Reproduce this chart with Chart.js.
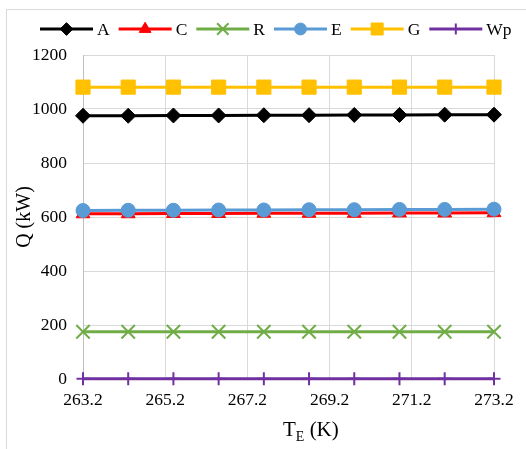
<!DOCTYPE html>
<html>
<head>
<meta charset="utf-8">
<script src="https://cdn.jsdelivr.net/npm/chart.js@4.4.1/dist/chart.umd.min.js"></script>
<style>
  html, body { margin: 0; padding: 0; background: #ffffff; }
  #wrap { position: relative; width: 526px; height: 449px; overflow: hidden; }
  canvas { display: block; }
</style>
</head>
<body>
<div id="wrap"><canvas id="chart" width="526" height="449"></canvas></div>
<script>
// Evaporator temperature T_E (K)
const temperatures = [263.2, 264.3, 265.4, 266.5, 267.6, 268.7, 269.8, 270.9, 272.0, 273.2];

// Heat flows / work (kW)
const qA  = [975, 975, 976, 976, 977, 977, 978, 978, 979, 979];
const qC  = [612, 612, 613, 613, 614, 614, 614, 615, 615, 616];
const qR  = [175, 175, 175, 175, 175, 175, 175, 175, 175, 175];
const qE  = [624, 625, 625, 626, 626, 627, 627, 628, 628, 629];
const qG  = [1081, 1081, 1081, 1081, 1081, 1081, 1081, 1081, 1081, 1081];
const qWp = [1, 1, 1, 1, 1, 1, 1, 1, 1, 1];

const seriesNames = ['A', 'C', 'R', 'E', 'G', 'Wp'];
const seriesValues = [qA, qC, qR, qE, qG, qWp];

// Axis ticks
const xTickValues = [263.2, 265.2, 267.2, 269.2, 271.2, 273.2];
const yTickValues = [0, 200, 400, 600, 800, 1000, 1200];

// Marker / line styling per series
const seriesStyles = [
  { color: '#000000', pointStyle: 'rectRot',  radius: 7.5, markerBorder: 1 },
  { color: '#FF0000', pointStyle: 'triangle', radius: 8,   markerBorder: 1 },
  { color: '#70AD47', pointStyle: 'crossRot', radius: 9.5, markerBorder: 2 },
  { color: '#5B9BD5', pointStyle: 'circle',   radius: 7,   markerBorder: 1 },
  { color: '#FFC000', pointStyle: 'rect',     radius: 10,  markerBorder: 1 },
  { color: '#7030A0', pointStyle: 'cross',    radius: 6.5, markerBorder: 2 }
];

const FONT = "'Liberation Serif', 'Times New Roman', serif";
const TEXT_COLOR = '#000000';

const datasets = seriesNames.map((name, i) => {
  const st = seriesStyles[i];
  return {
    label: name,
    data: temperatures.map((t, k) => ({ x: t, y: seriesValues[i][k] })),
    borderColor: st.color,
    backgroundColor: st.color,
    pointBackgroundColor: st.color,
    pointBorderColor: st.color,
    pointBorderWidth: st.markerBorder,
    pointStyle: st.pointStyle,
    pointRadius: st.radius,
    pointHoverRadius: st.radius,
    borderWidth: 3,
    tension: 0,
    clip: false,
    // later series are painted on top
    order: seriesNames.length - i
  };
});

const decorations = {
  id: 'decorations',
  beforeDraw(chart) {
    const ctx = chart.ctx;
    ctx.save();
    ctx.strokeStyle = '#d9d9d9';
    ctx.lineWidth = 1;
    ctx.strokeRect(6.5, 9.5, 700, 700);
    ctx.restore();
  },
  afterDraw(chart) {
    const ctx = chart.ctx;
    const area = chart.chartArea;
    const drawPoint = Chart.helpers && Chart.helpers.drawPoint;

    // Legend: line + marker + label
    ctx.save();
    ctx.font = '17.5px ' + FONT;
    ctx.textBaseline = 'middle';
    ctx.textAlign = 'left';
    let x = 40;
    const ly = 29;
    seriesNames.forEach((name, i) => {
      const st = seriesStyles[i];
      ctx.strokeStyle = st.color;
      ctx.fillStyle = st.color;
      ctx.lineWidth = 3;
      ctx.beginPath();
      ctx.moveTo(x, ly);
      ctx.lineTo(x + 53, ly);
      ctx.stroke();
      if (drawPoint) {
        ctx.lineWidth = st.markerBorder;
        drawPoint(ctx, {
          pointStyle: st.pointStyle,
          radius: st.radius * 0.85,
          rotation: 0,
          borderWidth: st.markerBorder
        }, x + 26.5, ly);
      }
      ctx.fillStyle = TEXT_COLOR;
      ctx.fillText(name, x + 57, ly + 1);
      x += 57 + ctx.measureText(name).width + 9;
    });
    ctx.restore();

    // Y axis title
    ctx.save();
    ctx.fillStyle = TEXT_COLOR;
    ctx.font = '20px ' + FONT;
    ctx.translate(25, (area.top + area.bottom) / 2);
    ctx.rotate(-Math.PI / 2);
    ctx.textAlign = 'center';
    ctx.textBaseline = 'middle';
    ctx.fillText('Q (kW)', 0, 0);
    ctx.restore();

    // X axis title with subscript
    ctx.save();
    ctx.fillStyle = TEXT_COLOR;
    ctx.textBaseline = 'alphabetic';
    ctx.textAlign = 'left';
    const base = 436;
    let tx = 283;
    ctx.font = '21px ' + FONT;
    ctx.fillText('T', tx, base);
    tx += ctx.measureText('T').width;
    ctx.font = '14px ' + FONT;
    ctx.fillText('E', tx, base + 5);
    tx += ctx.measureText('E').width;
    ctx.font = '21px ' + FONT;
    ctx.fillText(' (K)', tx, base);
    ctx.restore();
  }
};

new Chart(document.getElementById('chart'), {
  type: 'line',
  data: { datasets },
  plugins: [decorations],
  options: {
    responsive: false,
    animation: false,
    devicePixelRatio: 1,
    layout: { padding: { top: 55, right: 32, left: 0, bottom: 0 } },
    plugins: {
      legend: { display: false },
      title: { display: false },
      tooltip: { enabled: false }
    },
    scales: {
      x: {
        type: 'linear',
        min: xTickValues[0],
        max: xTickValues[xTickValues.length - 1],
        afterBuildTicks: (scale) => { scale.ticks = xTickValues.map(v => ({ value: v })); },
        afterFit: (scale) => { scale.height = 70; },
        ticks: {
          callback: (v) => Number(v).toFixed(1),
          font: { family: FONT, size: 17.5 },
          color: TEXT_COLOR,
          padding: 11,
          maxRotation: 0,
          autoSkip: false
        },
        grid: { color: '#d9d9d9', lineWidth: 1, drawTicks: false },
        border: { color: '#bfbfbf', width: 1 }
      },
      y: {
        type: 'linear',
        min: yTickValues[0],
        max: yTickValues[yTickValues.length - 1],
        afterBuildTicks: (scale) => { scale.ticks = yTickValues.map(v => ({ value: v })); },
        afterFit: (scale) => { scale.width = 83; },
        ticks: {
          callback: (v) => String(v),
          font: { family: FONT, size: 17.5 },
          color: TEXT_COLOR,
          padding: 16
        },
        grid: { color: '#d9d9d9', lineWidth: 1, drawTicks: false },
        border: { color: '#bfbfbf', width: 1 }
      }
    }
  }
});
</script>
</body>
</html>
